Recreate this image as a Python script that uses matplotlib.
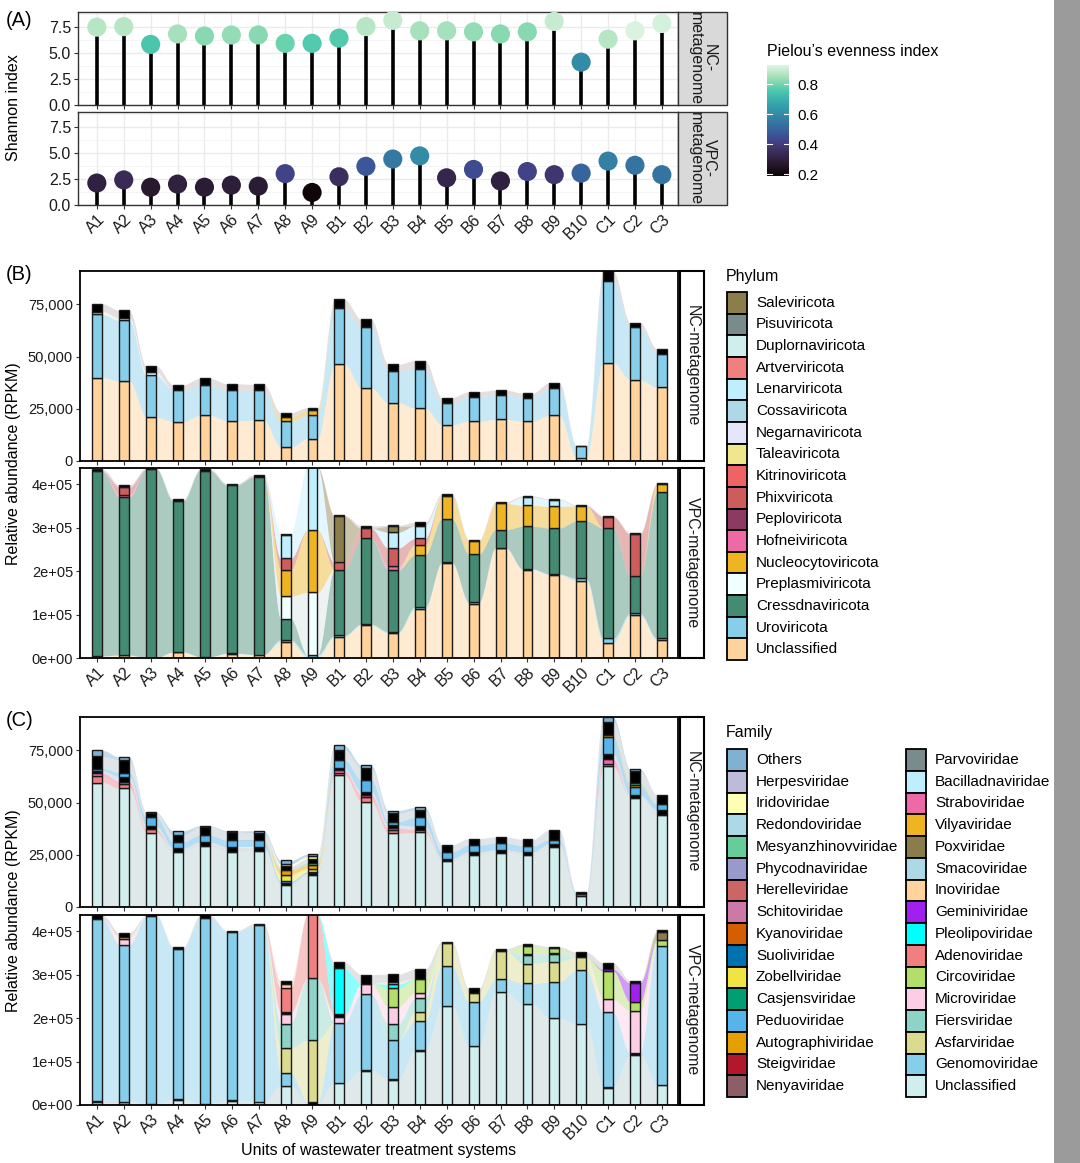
import numpy as np
import matplotlib
matplotlib.use('Agg')
import matplotlib.pyplot as plt
from matplotlib.patches import Rectangle
import seaborn as sns

plt.rcParams['font.family'] = ['Liberation Sans', 'DejaVu Sans']

samples = ['A1', 'A2', 'A3', 'A4', 'A5', 'A6', 'A7', 'A8', 'A9', 'B1', 'B2',
           'B3', 'B4', 'B5', 'B6', 'B7', 'B8', 'B9', 'B10', 'C1', 'C2', 'C3']

# (A) alpha diversity
shannon_nc = [7.45, 7.5, 5.8, 6.8, 6.6, 6.7, 6.7, 5.9, 5.9, 6.4, 7.5,
              8.1, 7.1, 7.1, 7.0, 6.8, 7.0, 8.0, 4.1, 6.3, 7.1, 7.8]
pielou_nc = [0.87, 0.87, 0.75, 0.85, 0.82, 0.83, 0.82, 0.79, 0.76, 0.76, 0.87,
             0.89, 0.85, 0.85, 0.83, 0.82, 0.82, 0.89, 0.60, 0.87, 0.92, 0.91]
shannon_vpc = [2.1, 2.4, 1.7, 2.0, 1.7, 1.9, 1.8, 3.0, 1.2, 2.7, 3.7,
               4.4, 4.7, 2.6, 3.4, 2.3, 3.2, 2.9, 3.05, 4.2, 3.8, 2.9]
pielou_vpc = [0.30, 0.34, 0.27, 0.30, 0.28, 0.29, 0.28, 0.42, 0.20, 0.35, 0.47,
              0.55, 0.60, 0.32, 0.44, 0.30, 0.42, 0.38, 0.50, 0.57, 0.54, 0.54]

# (B) phylum, NC-metagenome (x1000 RPKM)
nc_phy_unclassified = [39.9, 38.3, 21.0, 18.8, 21.8, 19.2, 19.5, 6.6, 10.6, 46.5, 34.9,
                       27.9, 25.3, 17.3, 19.1, 19.9, 19.1, 21.8, 1.6, 47.1, 38.9, 35.3]
nc_phy_uroviricota = [30.3, 29.0, 20.0, 15.0, 14.7, 14.6, 14.3, 12.4, 11.5, 26.9, 29.4,
                      15.4, 18.6, 10.4, 11.7, 11.7, 11.3, 13.0, 5.6, 39.1, 25.2, 16.1]
nc_phy_preplasmiviricota = [1.4, 1.2, 1.5] + [0] * 19
nc_phy_nucleocytoviricota = [0] * 7 + [2.0, 2.1] + [0] * 13
nc_phy_minor = [3.7, 3.6, 3.0, 2.7, 3.1, 3.2, 2.9, 2.2, 1.4, 4.0, 3.5,
                3.0, 4.2, 2.7, 2.4, 2.4, 2.1, 2.7, 0.2, 4.8, 2.2, 2.3]

# (B) phylum, VPC-metagenome (x1000 RPKM)
vpc_phy_unclassified = [4, 6, 1, 13, 3, 10, 8, 37, 0, 49, 75,
                        57, 112, 219, 125, 253, 203, 192, 178, 35, 98, 41]
vpc_phy_uroviricota = [1, 1, 0, 1, 0, 1, 0, 5, 7, 3, 3,
                       3, 6, 1, 4, 1, 2, 1, 5, 10, 5, 4]
vpc_phy_cressdnaviricota = [424, 363, 434, 347, 428, 387, 409, 48, 0, 151, 197,
                            143, 119, 100, 110, 41, 98, 106, 132, 254, 85, 336]
vpc_phy_preplasmiviricota = [0] * 7 + [52, 144] + [0] * 13
vpc_phy_nucleocytoviricota = [0] * 7 + [61, 143, 0, 0, 0, 24, 52, 29, 61, 48, 50, 35, 0, 0, 19]
vpc_phy_hofneiviricota = [0, 6] + [0] * 9 + [8] + [0] * 10
vpc_phy_phixviricota = [0, 17, 0, 0, 0, 0, 0, 26, 0, 17, 23,
                        42, 14, 0, 0, 0, 0, 0, 0, 26, 97, 0]
vpc_phy_lenarviricota = [0] * 7 + [54, 145] + [0, 0, 36, 29, 0, 0, 0, 19, 15, 0, 0, 0, 0]
vpc_phy_saleviricota = [0] * 9 + [106, 0, 14] + [0] * 10
vpc_phy_minor = [5, 5, 2, 4, 4, 3, 4, 2, 0, 2, 6,
                 2, 8, 6, 4, 3, 3, 2, 2, 2, 3, 2]

# (C) family, NC-metagenome (x1000 RPKM)
nc_fam_unclassified = [59.6, 56.9, 35.6, 26.3, 29.2, 26.4, 26.9, 10.3, 15.1, 63.3, 50.5,
                       35.3, 35.7, 21.8, 25.0, 26.0, 25.0, 28.8, 5.4, 67.3, 52.1, 44.1]
nc_fam_adenoviridae = [3.0, 2.0, 1.6, 0, 0, 0, 0, 0, 0, 1.0, 2.0,
                       1.4, 1.4, 0, 0, 0, 0, 0, 0, 1.2, 0, 0]
nc_fam_straboviridae = [1.6, 1.2, 0, 0, 0, 0, 0, 0, 0, 1.1, 1.2,
                        1.0, 0, 0, 0, 0, 0, 0, 0, 2.4, 0, 0]
nc_fam_minor_low = [1.0, 2.4, 1.6, 1.8, 2.0, 2.4, 1.9, 1.0, 1.0, 1.1, 1.6,
                    1.6, 1.6, 1.4, 1.4, 1.4, 1.3, 1.6, 0, 2.4, 1.6, 2.4]
nc_fam_peduoviridae = [1.1, 1.9, 4.2, 3.2, 3.2, 3.2, 3.2, 1.0, 0.8, 4.0, 5.6,
                       1.6, 4.2, 3.2, 3.2, 3.2, 3.0, 1.8, 1.0, 8.0, 3.7, 2.7]
nc_fam_zobellviridae = [0] * 7 + [3.2, 1.5] + [0] * 13
nc_fam_autographiviridae = [0] * 7 + [2.4, 1.8] + [0] * 10 + [1.0, 0.8, 0]
nc_fam_mesyanzhinovviridae = [0] * 8 + [1.0] + [0] * 11 + [1.2, 0]
nc_fam_minor_high = [5.8, 6.1, 2.2, 3.2, 4.0, 4.0, 3.5, 1.6, 2.0, 4.8, 5.6,
                     4.0, 3.5, 3.4, 3.2, 3.0, 3.1, 4.7, 0.8, 6.5, 5.5, 4.5]
nc_fam_iridoviridae = [0] * 7 + [1.1, 1.0] + [0] * 13
nc_fam_others = [2.9, 1.3, 0.2, 2.0, 0.5, 0.5, 1.0, 1.7, 1.1, 2.1, 1.4,
                 1.3, 1.3, 0, 0, 0, 0, 0, 0, 2.2, 1.1, 0]

# (C) family, VPC-metagenome (x1000 RPKM)
vpc_fam_unclassified = [7, 7, 2, 12, 3, 10, 8, 44, 0, 51, 78,
                        58, 124, 228, 136, 260, 232, 200, 187, 40, 114, 45]
vpc_fam_minor_low = [2, 1, 0, 1, 0, 1, 0, 0, 7, 0, 2,
                     2, 2, 0, 0, 0, 0, 0, 0, 2, 5, 0]
vpc_fam_genomoviridae = [419, 361, 433, 346, 428, 387, 405, 30, 0, 138, 175,
                         89, 67, 91, 101, 30, 48, 83, 123, 171, 0, 320]
vpc_fam_asfarviridae = [0] * 7 + [57, 142] + [0, 0, 0, 22, 53, 20, 65, 45, 47, 30, 0, 0, 0]
vpc_fam_fiersviridae = [0] * 7 + [56, 142] + [0, 0, 38, 30, 0, 0, 0, 20, 17, 0, 0, 0, 0]
vpc_fam_microviridae = [0, 12, 0, 0, 0, 0, 0, 23, 0, 14, 24,
                        39, 13, 0, 0, 0, 0, 0, 0, 30, 98, 0]
vpc_fam_minor_mid = [0] * 7 + [4, 0, 7] + [0] * 6 + [3, 3] + [0] * 4
vpc_fam_circoviridae = [0] * 11 + [42, 32, 0, 0, 0, 18, 10, 0, 65, 20, 15]
vpc_fam_adenoviridae = [0] * 7 + [56, 148] + [0] * 13
vpc_fam_pleolipoviridae = [0] * 9 + [105, 0, 10] + [0] * 10
vpc_fam_geminiviridae = [0] * 19 + [4, 44, 0]
vpc_fam_inoviridae = [0, 6, 0, 0, 0, 0, 0, 8, 0, 0, 0, 6] + [0] * 10
vpc_fam_poxviridae = [0] * 21 + [17]
vpc_fam_minor_high = [9, 9, 2, 5, 5, 3, 4, 7, 0, 13, 21,
                      17, 22, 4, 11, 4, 4, 4, 12, 15, 5, 5]

# legends
phylum_names = ['Saleviricota', 'Pisuviricota', 'Duplornaviricota', 'Artverviricota',
                'Lenarviricota', 'Cossaviricota', 'Negarnaviricota', 'Taleaviricota',
                'Kitrinoviricota', 'Phixviricota', 'Peploviricota', 'Hofneiviricota',
                'Nucleocytoviricota', 'Preplasmiviricota', 'Cressdnaviricota',
                'Uroviricota', 'Unclassified']
phylum_colors = ['#8B7E4A', '#7A8B8B', '#D1EEEE', '#F08080', '#BFEFFF', '#ADD8E6',
                 '#E6E6FA', '#F0E68C', '#EE6363', '#CD5C5C', '#8B3A62', '#EE6AA7',
                 '#EEB422', '#F0FFFF', '#458B74', '#87CEEB', '#FFD39B']
family_names = ['Others', 'Herpesviridae', 'Iridoviridae', 'Redondoviridae',
                'Mesyanzhinovviridae', 'Phycodnaviridae', 'Herelleviridae',
                'Schitoviridae', 'Kyanoviridae', 'Suoliviridae', 'Zobellviridae',
                'Casjensviridae', 'Peduoviridae', 'Autographiviridae', 'Steigviridae',
                'Nenyaviridae', 'Parvoviridae', 'Bacilladnaviridae', 'Straboviridae',
                'Vilyaviridae', 'Poxviridae', 'Smacoviridae', 'Inoviridae',
                'Geminiviridae', 'Pleolipoviridae', 'Adenoviridae', 'Circoviridae',
                'Microviridae', 'Fiersviridae', 'Asfarviridae', 'Genomoviridae',
                'Unclassified']
family_colors = ['#80B1D3', '#BEBADA', '#FFFFB3', '#ADD8E6', '#66CC99', '#9999CC',
                 '#CC6666', '#CC79A7', '#D55E00', '#0072B2', '#F0E442', '#009E73',
                 '#56B4E9', '#E69F00', '#B2182B', '#8B5F65', '#7A8B8B', '#BFEFFF',
                 '#EE6AA7', '#EEB422', '#8B7D4B', '#ADD8E6', '#FFD39B', '#A020F0',
                 '#00FFFF', '#F08080', '#B3DE69', '#FCCDE5', '#8DD3C7', '#DADB8E',
                 '#87CEEB', '#D1EEEE']
pc = dict(zip(phylum_names, phylum_colors))
fc = dict(zip(family_names, family_colors))
MINOR = ('black', '#C4B6B6')

W, H = 1080, 1163
fig = plt.figure(figsize=(W / 100, H / 100), dpi=100)


def add_ax(l, t, r, b):
    return fig.add_axes([l / W, 1 - b / H, (r - l) / W, (b - t) / H])


x = np.arange(len(samples))
XLIM = (-0.65, 21.6)


def alluvial(ax, layers, width=0.37):
    base = np.zeros(len(x))
    t = np.linspace(0, 1, 40)
    s = t * t * (3 - 2 * t)
    for color, flow_color, vals in layers:
        v = np.asarray(vals, float) * 1000
        top = base + v
        for i in range(len(x) - 1):
            if v[i] == 0 and v[i + 1] == 0:
                continue
            xs = x[i] + width / 2 + (1 - width) * t
            lo = base[i] + (base[i + 1] - base[i]) * s
            hi = top[i] + (top[i + 1] - top[i]) * s
            ax.fill_between(xs, lo, hi, color=flow_color, alpha=0.45, lw=0, zorder=1)
        m = v > 0
        ax.bar(x[m], v[m], width, bottom=base[m], color=color,
               edgecolor='#1a1a1a', lw=1.0, zorder=2)
        base = top


def style_bar_ax(ax, top, ticks, labels, show_x):
    ax.set_xlim(*XLIM)
    ax.set_ylim(0, top)
    ax.set_yticks(ticks)
    ax.set_yticklabels(labels)
    ax.set_xticks(x)
    for sp in ax.spines.values():
        sp.set_color('black')
        sp.set_linewidth(1.3)
    ax.tick_params(axis='both', length=3, width=0.8, color='#333333',
                   labelsize=10.5, labelcolor='#1a1a1a', pad=2)
    if show_x:
        ax.set_xticklabels(samples, rotation=45, ha='right', va='top',
                           rotation_mode='anchor', fontsize=11.5)
    else:
        ax.set_xticklabels([])


# ---------- (A) ----------
cmap = sns.color_palette('mako', as_cmap=True)
VMIN, VMAX = 0.187, 0.927
sc = None
for ax_box, sh, pe, show_x in [((78, 12, 678, 105), shannon_nc, pielou_nc, False),
                               ((78, 112, 678, 205), shannon_vpc, pielou_vpc, True)]:
    ax = add_ax(*ax_box)
    ax.vlines(x, 0, sh, color='black', lw=2.6, zorder=2)
    sc = ax.scatter(x, sh, c=pe, cmap=cmap, vmin=VMIN, vmax=VMAX, s=190,
                    zorder=3, edgecolors='none')
    ax.set_xlim(-0.7, 21.6)
    ax.set_ylim(0, 8.9)
    ax.set_yticks([0, 2.5, 5, 7.5])
    ax.set_yticklabels(['0.0', '2.5', '5.0', '7.5'])
    ax.set_yticks([1.25, 3.75, 6.25, 8.75], minor=True)
    ax.set_xticks(x)
    ax.grid(True, which='major', color='#EBEBEB', lw=1.0, zorder=0)
    ax.grid(True, which='minor', axis='y', color='#F2F2F2', lw=0.6, zorder=0)
    ax.set_axisbelow(True)
    for sp in ax.spines.values():
        sp.set_color('#333333')
        sp.set_linewidth(1.0)
    ax.tick_params(axis='both', length=3, width=0.8, color='#333333',
                   labelsize=11.5, labelcolor='#1a1a1a', pad=2)
    ax.tick_params(which='minor', length=0)
    if show_x:
        ax.set_xticklabels(samples, rotation=45, ha='right', va='top',
                           rotation_mode='anchor', fontsize=11.5)
    else:
        ax.set_xticklabels([])

cax = add_ax(767, 65, 789, 176)
cb = fig.colorbar(sc, cax=cax, ticks=[0.2, 0.4, 0.6, 0.8])
cb.outline.set_visible(False)
cax.tick_params(length=0, labelsize=11, pad=6)
for tv in [0.2, 0.4, 0.6, 0.8]:
    cax.axhline(tv, xmin=0, xmax=0.22, color='white', lw=0.8)
    cax.axhline(tv, xmin=0.78, xmax=1, color='white', lw=0.8)

# ---------- (B) ----------
axB1 = add_ax(80, 271, 678, 461)
alluvial(axB1, [
    (pc['Unclassified'], pc['Unclassified'], nc_phy_unclassified),
    (pc['Uroviricota'], pc['Uroviricota'], nc_phy_uroviricota),
    (pc['Preplasmiviricota'], '#DDEAEA', nc_phy_preplasmiviricota),
    (pc['Nucleocytoviricota'], pc['Nucleocytoviricota'], nc_phy_nucleocytoviricota),
    (MINOR[0], MINOR[1], nc_phy_minor),
])
style_bar_ax(axB1, 91000, [0, 25000, 50000, 75000], ['0', '25,000', '50,000', '75,000'], False)

axB2 = add_ax(80, 468, 678, 658)
alluvial(axB2, [
    (pc['Unclassified'], pc['Unclassified'], vpc_phy_unclassified),
    (pc['Uroviricota'], pc['Uroviricota'], vpc_phy_uroviricota),
    (pc['Cressdnaviricota'], pc['Cressdnaviricota'], vpc_phy_cressdnaviricota),
    (pc['Preplasmiviricota'], '#D8E4E4', vpc_phy_preplasmiviricota),
    (pc['Nucleocytoviricota'], pc['Nucleocytoviricota'], vpc_phy_nucleocytoviricota),
    (pc['Hofneiviricota'], pc['Hofneiviricota'], vpc_phy_hofneiviricota),
    (pc['Phixviricota'], pc['Phixviricota'], vpc_phy_phixviricota),
    (pc['Lenarviricota'], pc['Lenarviricota'], vpc_phy_lenarviricota),
    (pc['Saleviricota'], pc['Saleviricota'], vpc_phy_saleviricota),
    (MINOR[0], MINOR[1], vpc_phy_minor),
])
style_bar_ax(axB2, 437000, [0, 1e5, 2e5, 3e5, 4e5],
             ['0e+00', '1e+05', '2e+05', '3e+05', '4e+05'], True)

# ---------- (C) ----------
axC1 = add_ax(80, 717, 678, 907)
alluvial(axC1, [
    (fc['Unclassified'], '#B9CFCF', nc_fam_unclassified),
    (fc['Adenoviridae'], fc['Adenoviridae'], nc_fam_adenoviridae),
    (fc['Straboviridae'], fc['Straboviridae'], nc_fam_straboviridae),
    (MINOR[0], '#B8C4D0', nc_fam_minor_low),
    (fc['Peduoviridae'], fc['Peduoviridae'], nc_fam_peduoviridae),
    (fc['Zobellviridae'], fc['Zobellviridae'], nc_fam_zobellviridae),
    (fc['Autographiviridae'], fc['Autographiviridae'], nc_fam_autographiviridae),
    (fc['Mesyanzhinovviridae'], fc['Mesyanzhinovviridae'], nc_fam_mesyanzhinovviridae),
    (MINOR[0], '#B8C4D0', nc_fam_minor_high),
    (fc['Iridoviridae'], fc['Iridoviridae'], nc_fam_iridoviridae),
    (fc['Others'], fc['Others'], nc_fam_others),
])
style_bar_ax(axC1, 91000, [0, 25000, 50000, 75000], ['0', '25,000', '50,000', '75,000'], False)

axC2 = add_ax(80, 915, 678, 1105)
alluvial(axC2, [
    (fc['Unclassified'], '#B9CFCF', vpc_fam_unclassified),
    (MINOR[0], '#B8C4D0', vpc_fam_minor_low),
    (fc['Genomoviridae'], fc['Genomoviridae'], vpc_fam_genomoviridae),
    (fc['Asfarviridae'], fc['Asfarviridae'], vpc_fam_asfarviridae),
    (fc['Fiersviridae'], fc['Fiersviridae'], vpc_fam_fiersviridae),
    (fc['Microviridae'], fc['Microviridae'], vpc_fam_microviridae),
    (MINOR[0], '#B8C4D0', vpc_fam_minor_mid),
    (fc['Circoviridae'], fc['Circoviridae'], vpc_fam_circoviridae),
    (fc['Adenoviridae'], fc['Adenoviridae'], vpc_fam_adenoviridae),
    (fc['Pleolipoviridae'], fc['Pleolipoviridae'], vpc_fam_pleolipoviridae),
    (fc['Geminiviridae'], fc['Geminiviridae'], vpc_fam_geminiviridae),
    (fc['Inoviridae'], fc['Inoviridae'], vpc_fam_inoviridae),
    (fc['Poxviridae'], fc['Poxviridae'], vpc_fam_poxviridae),
    (MINOR[0], '#C0C0C0', vpc_fam_minor_high),
])
style_bar_ax(axC2, 437000, [0, 1e5, 2e5, 3e5, 4e5],
             ['0e+00', '1e+05', '2e+05', '3e+05', '4e+05'], True)

# ---------- overlay: strips, labels, legends ----------
ov = fig.add_axes([0, 0, 1, 1])
ov.set_xlim(0, W)
ov.set_ylim(H, 0)
ov.axis('off')

for (t, b), lab in [((12, 105), 'NC-\nmetagenome'), ((112, 205), 'VPC-\nmetagenome')]:
    ov.add_patch(Rectangle((678, t), 49, b - t, facecolor='#D9D9D9', edgecolor='#333333', lw=1.0))
    ov.text(702.5, (t + b) / 2, lab, rotation=-90, ha='center', va='center',
            fontsize=11.5, color='#1a1a1a', linespacing=0.95)

for (t, b), lab in [((271, 461), 'NC-metagenome'), ((468, 658), 'VPC-metagenome'),
                    ((717, 907), 'NC-metagenome'), ((915, 1105), 'VPC-metagenome')]:
    ov.add_patch(Rectangle((680, t), 24, b - t, facecolor='white', edgecolor='black', lw=1.5))
    ov.text(692, (t + b) / 2, lab, rotation=-90, ha='center', va='center',
            fontsize=11.5, color='#1a1a1a')

ov.text(6, 20, '(A)', fontsize=14.5, ha='left', va='center')
ov.text(6, 275, '(B)', fontsize=14.5, ha='left', va='center')
ov.text(6, 721, '(C)', fontsize=14.5, ha='left', va='center')
ov.text(14, 108, 'Shannon index', rotation=90, ha='center', va='center', fontsize=11.5)
ov.text(14, 464, 'Relative abundance (RPKM)', rotation=90, ha='center', va='center', fontsize=11.5)
ov.text(14, 911, 'Relative abundance (RPKM)', rotation=90, ha='center', va='center', fontsize=11.5)
ov.text(379, 1150, 'Units of wastewater treatment systems', ha='center', va='center', fontsize=11.5)
ov.text(767, 51, 'Pielou\u2019s evenness index', ha='left', va='center', fontsize=11.5)

# phylum legend
ov.text(726, 276, 'Phylum', ha='left', va='center', fontsize=11.5)
kh = 21.65
for i, (nm, col) in enumerate(zip(phylum_names, phylum_colors)):
    y0 = 292 + i * kh
    ov.add_patch(Rectangle((727, y0), 20, kh, facecolor=col, edgecolor='black', lw=1.3))
    ov.text(756, y0 + kh / 2, nm, ha='left', va='center', fontsize=11)

# family legend
ov.text(726, 733, 'Family', ha='left', va='center', fontsize=11.5)
kh = 21.75
for i, (nm, col) in enumerate(zip(family_names, family_colors)):
    c, r = divmod(i, 16)
    kx = 727 if c == 0 else 906
    tx = 756 if c == 0 else 935
    y0 = 749 + r * kh
    ov.add_patch(Rectangle((kx, y0), 20, kh, facecolor=col, edgecolor='black', lw=1.3))
    ov.text(tx, y0 + kh / 2, nm, ha='left', va='center', fontsize=11)

# grey margin on the right
ov.add_patch(Rectangle((1054, 0), 26, H, facecolor='#9B9B9B', edgecolor='none'))

fig.savefig('out.png', dpi=100)
